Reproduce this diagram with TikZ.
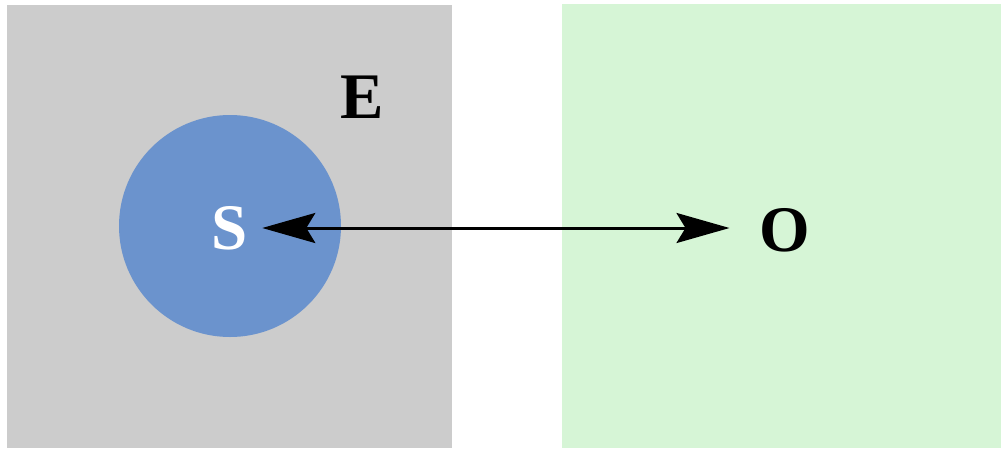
\documentclass[tikz,border=0pt]{standalone}
\usepackage{fontspec}
\setmainfont{Liberation Serif}[BoldFont={Liberation Serif Bold}]
\usetikzlibrary{arrows.meta}
\definecolor{envgray}{RGB}{204,204,204}
\definecolor{sysblue}{RGB}{107,147,205}
\definecolor{obsgreen}{RGB}{214,245,214}
\begin{document}
\begin{tikzpicture}[x=1pt,y=-1pt,
  lbl/.style={font=\fontsize{65}{65}\selectfont\bfseries, inner sep=0pt},
  conn/.style={line width=3pt, {Stealth[length=53pt,width=30pt,inset=9pt]}-{Stealth[length=53pt,width=30pt,inset=9pt]}}]
\useasboundingbox (0,0) rectangle (1001,448);
\fill[envgray] (7,5) rectangle (452,448);
\fill[obsgreen] (562,4) rectangle (1001,448);
\fill[sysblue] (230,226) circle (111);
\node[lbl] (E) at (362,97) {E};
\node[lbl, text=white] (S) at (230,228) {S};
\node[lbl] (O) at (785,230) {O};
\draw[conn, shorten <=14pt, shorten >=30pt] (S.east |- 0,228) -- (O.west |- 0,228);
\end{tikzpicture}
\end{document}
